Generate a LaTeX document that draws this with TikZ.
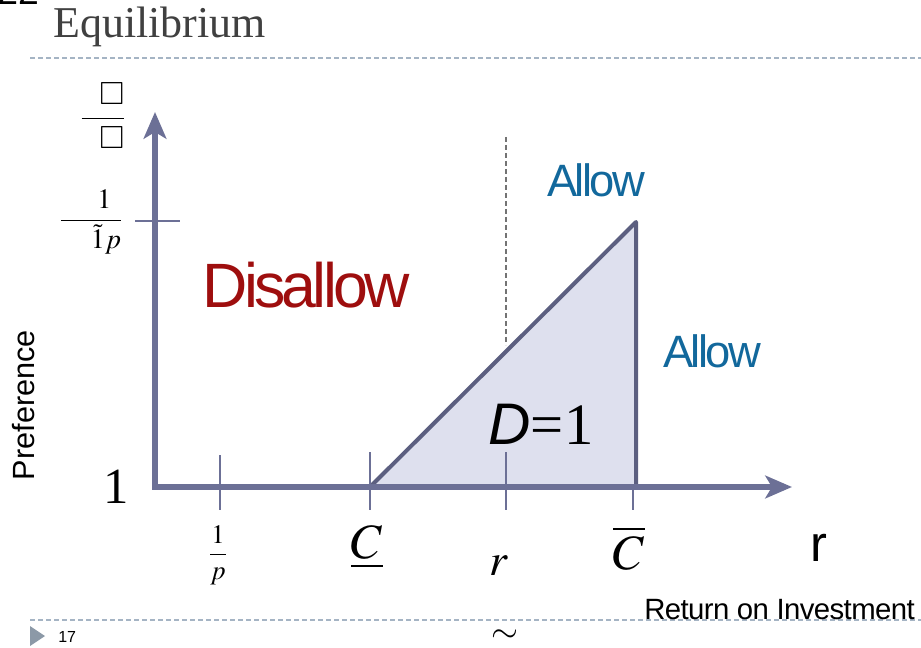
\documentclass[tikz,border=0pt]{standalone}
\usepackage{amsmath}
\usepackage{mathptmx}
\usepackage{amssymb}
\usepackage[no-math]{fontspec}
\setmainfont{Liberation Serif}
\setsansfont{Liberation Sans}
\usetikzlibrary{arrows.meta, positioning}
\definecolor{axiscol}{RGB}{108,112,150}
\definecolor{regionfill}{RGB}{222,224,238}
\definecolor{allowblue}{RGB}{18,104,156}
\definecolor{disallowred}{RGB}{158,14,14}
\definecolor{rulecol}{RGB}{165,180,196}
\definecolor{titlegray}{RGB}{64,64,64}
\tikzset{
  axis/.style={axiscol, line width=4.2pt, -{Stealth[length=20pt, width=17pt, inset=5pt]}},
  tick/.style={axiscol, line width=1.8pt},
  rule/.style={rulecol, line width=1pt, dash pattern=on 4pt off 2pt},
  region/.style={fill=regionfill, draw=axiscol!85!black, line width=3pt, line join=round},
  choice/.style={font=\sffamily\fontsize{#1}{#1}\selectfont, inner sep=0pt}
}
\begin{document}
\begin{tikzpicture}[x=0.75pt, y=-0.75pt, every node/.style={inner sep=0pt}]
  \useasboundingbox (0,0) rectangle (921,648);
  % header and footer
  \node[anchor=base west, font=\sffamily\fontsize{28}{28}\selectfont] (pgprev) at (-3,5) {22};
  \node[anchor=base west, text=titlegray, font=\fontsize{33}{33}\selectfont] (title) at (53,38) {Equilibrium};
  \draw[rule] (30,58) -- (921,58);
  \draw[rule] (30,620) -- (921,620);
  \fill[black!15!rulecol] (30,626) -- (45,636) -- (30,646) -- cycle;
  \node[anchor=base west, font=\sffamily\fontsize{12}{12}\selectfont] (pgnum) at (58,642) {17};
  \node[font=\fontsize{26}{26}\selectfont] (tilde) at (505,636) {$\sim$};
  % axes
  \coordinate (O) at (155,487);
  \coordinate (Clo) at (370,487);
  \coordinate (Chi) at (636,487);
  \coordinate (Ctop) at (636,222);
  \fill[regionfill] (Clo) -- (Ctop) -- (Chi) -- cycle;
  \draw[region, fill=none] (Clo) -- (Ctop) -- (Chi);
  \draw[tick] (135,221) -- (180,221);
  \foreach \x/\t in {220/455, 370/452, 506/452, 633/485} \draw[tick] (\x,\t) -- (\x,510);
  \draw[axis] (O) -- (155,112);
  \draw[axis] (152,487) -- (792,487);
  \draw[gray!90!black, line width=1.8pt, dash pattern=on 4pt off 2pt] (506,137) -- (506,345);
  % y labels
  \node[font=\fontsize{24}{24}\selectfont] (ytop) at (103,116) {$\dfrac{\mkern10mu\square}{\mkern10mu\square}$};
  \node[font=\fontsize{21}{21}\selectfont] (ymax) at (91,222) {$\dfrac{\hphantom{\tilde{1}p}1\,}{\hphantom{\tilde{1}p}\tilde{1}p}$};
  \node[anchor=base, font=\fontsize{38}{38}\selectfont] (yone) at (116,503) {1};
  \node[rotate=90, anchor=base, font=\sffamily\fontsize{23}{23}\selectfont] (ylab) at (34,405) {Preference};
  % x labels
  \node[font=\fontsize{20}{20}\selectfont] (xinv) at (218,555) {$\dfrac{1}{p}$};
  \node[font=\fontsize{37}{37}\selectfont] (xlo) at (367,547) {$\underline{C}$};
  \node[anchor=base, font=\fontsize{34}{34}\selectfont] (xr) at (499,575) {$r$};
  \node[font=\fontsize{37}{37}\selectfont] (xhi) at (629,548) {$\overline{C}$};
  \node[anchor=base, font=\sffamily\fontsize{38}{38}\selectfont] (xvar) at (819,561) {r};
  \node[anchor=base east, font=\sffamily\fontsize{22}{22}\selectfont] (xlab) at (915,619) {\addfontfeature{LetterSpace=-2}Return on Investment};
  % regions
  \node[anchor=base, text=disallowred, choice=47] (dis) at (306,308) {\addfontfeature{LetterSpace=-6}Disallow};
  \node[anchor=base, text=allowblue, choice=34] (allowtop) at (596,197) {\addfontfeature{LetterSpace=-6}Allow};
  \node[anchor=base, text=allowblue, choice=34] (allowside) at (712,368) {\addfontfeature{LetterSpace=-6}Allow};
  \node[anchor=base, font=\fontsize{44}{44}\selectfont] (deq) at (541,445) {\sffamily\itshape D\rmfamily\upshape=1};
\end{tikzpicture}
\end{document}
